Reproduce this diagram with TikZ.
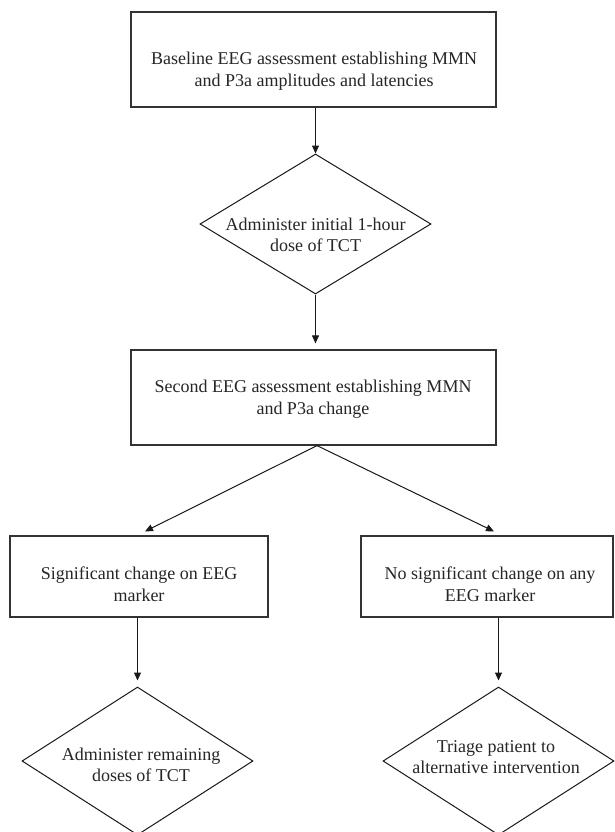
\documentclass[tikz,border=0pt]{standalone}
\usepackage{fontspec}
\setmainfont{Liberation Serif}
\usetikzlibrary{shapes.geometric,arrows.meta}
\begin{document}
\begin{tikzpicture}[x=1pt,y=-1pt,
  boxnode/.style={draw=black!80,line width=1.2pt,rectangle,inner sep=0pt},
  dianode/.style={draw=black!90,line width=1pt,diamond,inner sep=0pt},
  txt/.style={align=center,inner sep=0pt,text=black!85,font=\fontsize{18}{21.5}\selectfont},
  arr/.style={draw=black!90,line width=1pt,-{Triangle[length=8pt,width=7pt]}},
  ln/.style={draw=black!90,line width=1pt}]
\useasboundingbox (0,0) rectangle (614,832);
\fill[white] (0,0) rectangle (614,832);

\node[boxnode,minimum width=365pt,minimum height=95pt] (b1) at (313.5,59.5) {};
\node[dianode,minimum width=231pt,minimum height=140pt] (d1) at (315.5,224) {};
\node[boxnode,minimum width=365pt,minimum height=95pt] (b2) at (313.5,397.5) {};
\node[boxnode,minimum width=258pt,minimum height=81pt] (b3) at (139,576.5) {};
\node[boxnode,minimum width=252pt,minimum height=81pt] (b4) at (487,576.5) {};
\node[dianode,minimum width=231pt,minimum height=148pt] (d2) at (137.5,761) {};
\node[dianode,minimum width=231pt,minimum height=148pt] (d3) at (498.5,761) {};

\node[txt] (t1) at ([shift={(0.5,11.5)}]b1.center) {Baseline EEG assessment establishing MMN\\and P3a amplitudes and latencies};
\node[txt] (td1) at ([shift={(0,11)}]d1.center) {Administer initial 1-hour\\dose of TCT};
\node[txt] (t2) at ([shift={(-0.5,1.5)}]b2.center) {Second EEG assessment establishing MMN\\and P3a change};
\node[txt] (t3) at ([shift={(0,7.5)}]b3.center) {Significant change on EEG\\marker};
\node[txt] (t4) at ([shift={(3,7.5)}]b4.center) {No significant change on any\\EEG marker};
\node[txt] (td2) at ([shift={(3.5,4)}]d2.center) {Administer remaining\\doses of TCT};
\node[txt] (td3) at ([shift={(-2.5,-4)}]d3.center) {Triage patient to\\alternative intervention};

\draw[arr] (d1.north |- b1.south) -- (d1.north);
\draw[arr] (d1.south) -- ([yshift=6pt]b2.north -| d1.south);
\draw[arr] ([xshift=3.5pt]b2.south) -- ([shift={(6,-4)}]b3.north);
\draw[arr] ([xshift=3.5pt]b2.south) -- ([shift={(7,-4)}]b4.north);
\draw[arr] (b3.south -| d2.north) -- ([yshift=6pt]d2.north);
\draw[arr] (b4.south -| d3.north) -- ([yshift=6pt]d3.north);
\end{tikzpicture}
\end{document}
